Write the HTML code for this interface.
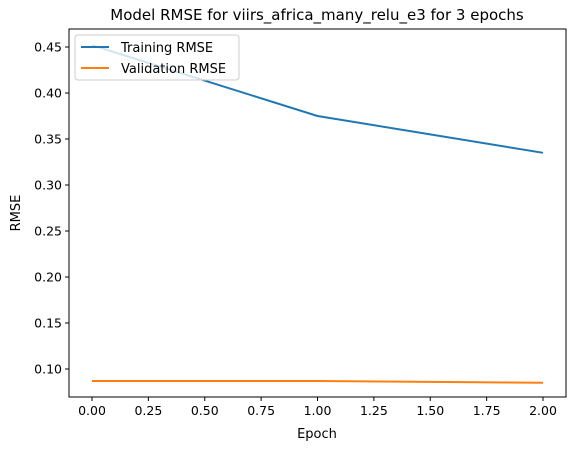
<!DOCTYPE html>
<html><head><meta charset="utf-8"><style>
body{margin:0;background:#fff}
svg text{font-family:"DejaVu Sans","Liberation Sans",sans-serif;fill:#000}
</style></head><body>
<svg id="chart" width="574" height="450" xmlns="http://www.w3.org/2000/svg">
<rect width="574" height="450" fill="#fff"/>
<text x="317" y="20" font-size="15" text-anchor="middle">Model RMSE for viirs_africa_many_relu_e3 for 3 epochs</text>
<g id="grid"></g>
<g id="series"></g>
<rect x="69" y="29" width="497" height="368" fill="none" stroke="#000" stroke-width="1"/>
<text x="317" y="438" font-size="13" text-anchor="middle">Epoch</text>
<text transform="translate(20,213) rotate(-90)" font-size="13" text-anchor="middle">RMSE</text>
<g>
<rect x="75" y="35" width="164" height="45" rx="3" fill="#fff" fill-opacity="0.8" stroke="#ccc"/>
<line x1="81" y1="47" x2="109" y2="47" stroke="#1f77b4" stroke-width="2"/>
<text x="121" y="52" font-size="13">Training RMSE</text>
<line x1="81" y1="68" x2="109" y2="68" stroke="#ff7f0e" stroke-width="2"/>
<text x="121" y="73" font-size="13">Validation RMSE</text>
</g>
</svg>
<script>
const epochs=[0,1,2];
const trainRmse=[0.452,0.375,0.335];
const valRmse=[0.087,0.087,0.085];
const xTicks=[0,0.25,0.5,0.75,1,1.25,1.5,1.75,2];
const yTicks=[0.10,0.15,0.20,0.25,0.30,0.35,0.40,0.45];
const NS="http://www.w3.org/2000/svg";
const X=v=>92+v*(543-92)/2;
const Y=v=>369-(v-0.10)*(369-47)/0.35;
const g=document.getElementById('grid'),s=document.getElementById('series');
function mk(t,a,p){const e=document.createElementNS(NS,t);for(const k in a)e.setAttribute(k,a[k]);p.appendChild(e);return e;}
xTicks.forEach(v=>{
 const l=mk('line',{x1:X(v),x2:X(v),y1:397,y2:401,stroke:'#000'},g);
 
 
 const t=mk('text',{x:X(v),y:415,'font-size':12.5,'text-anchor':'middle'},g);t.textContent=v.toFixed(2);
 
 
});
yTicks.forEach(v=>{
 const l=mk('line',{x1:65,x2:69,y1:Y(v),y2:Y(v),stroke:'#000'},g);
 
 
 const t=mk('text',{x:62,y:Y(v)+4.5,'font-size':12.5,'text-anchor':'end'},g);t.textContent=v.toFixed(2);
 
 
});
function line(vals,color,name){
 const p=mk('polyline',{points:epochs.map((e,i)=>X(e)+','+Y(vals[i])).join(' '),fill:'none',stroke:color,'stroke-width':2},s);
 
 
}
line(trainRmse,'#1f77b4','training-rmse-line');
line(valRmse,'#ff7f0e','validation-rmse-line');
</script>
</body></html>
